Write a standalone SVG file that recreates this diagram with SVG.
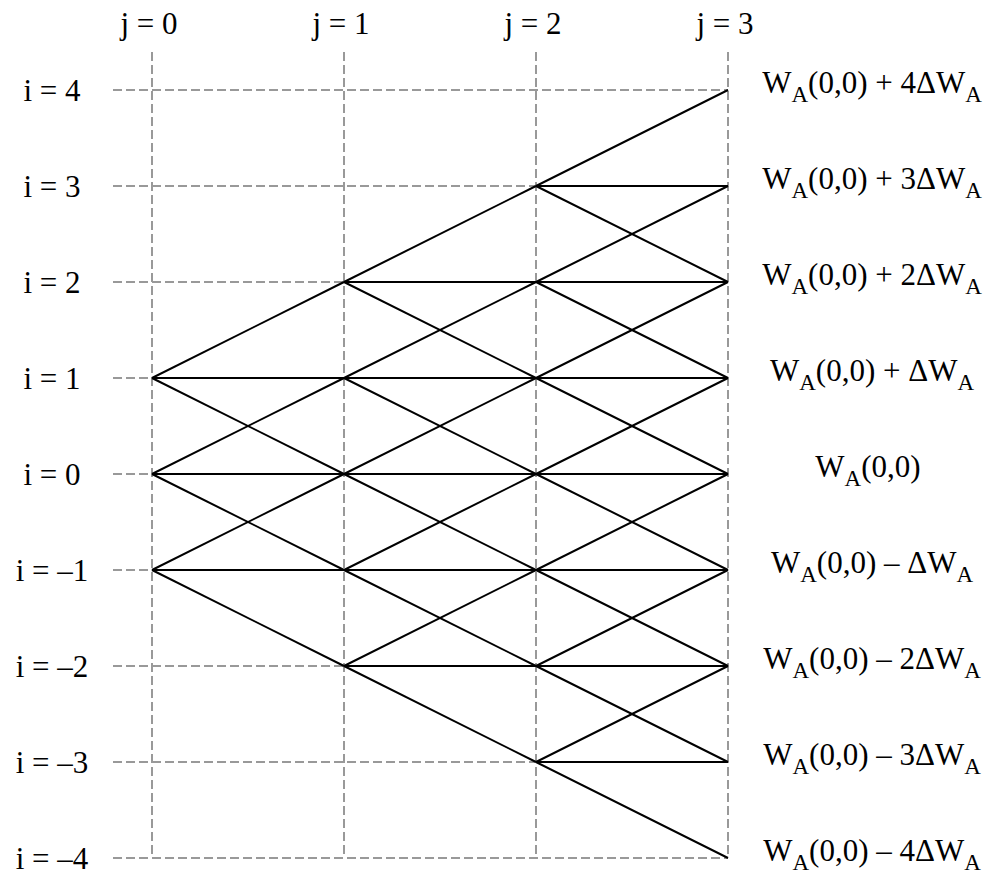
<svg xmlns="http://www.w3.org/2000/svg" width="997" height="888" viewBox="0 0 997 888">
<style>
.grid line{stroke:#999;stroke-width:2;stroke-dasharray:9 4;fill:none}
.edges line{stroke:#000;stroke-width:2}
text{font-family:"Liberation Serif","Times New Roman",serif;font-size:31px;fill:#000}
.c{text-anchor:middle}
.sub{font-size:23px}
</style>
<rect width="997" height="888" fill="#fff"/>
<g class="grid" id="grid">
<line x1="152" y1="52" x2="152" y2="858"/>
<line x1="344" y1="52" x2="344" y2="858"/>
<line x1="536" y1="52" x2="536" y2="858"/>
<line x1="728" y1="52" x2="728" y2="858"/>
<line x1="113" y1="90" x2="728" y2="90"/>
<line x1="113" y1="186" x2="728" y2="186"/>
<line x1="113" y1="282" x2="728" y2="282"/>
<line x1="113" y1="378" x2="728" y2="378"/>
<line x1="113" y1="474" x2="728" y2="474"/>
<line x1="113" y1="570" x2="728" y2="570"/>
<line x1="113" y1="666" x2="728" y2="666"/>
<line x1="113" y1="762" x2="728" y2="762"/>
<line x1="113" y1="858" x2="728" y2="858"/>
</g>
<g class="edges" id="connectors">
<line x1="152" y1="378" x2="344" y2="282"/><line x1="152" y1="378" x2="344" y2="378"/><line x1="152" y1="378" x2="344" y2="474"/>
<line x1="152" y1="474" x2="344" y2="378"/><line x1="152" y1="474" x2="344" y2="474"/><line x1="152" y1="474" x2="344" y2="570"/>
<line x1="152" y1="570" x2="344" y2="474"/><line x1="152" y1="570" x2="344" y2="570"/><line x1="152" y1="570" x2="344" y2="666"/>
<line x1="344" y1="282" x2="536" y2="186"/><line x1="344" y1="282" x2="536" y2="282"/><line x1="344" y1="282" x2="536" y2="378"/>
<line x1="344" y1="378" x2="536" y2="282"/><line x1="344" y1="378" x2="536" y2="378"/><line x1="344" y1="378" x2="536" y2="474"/>
<line x1="344" y1="474" x2="536" y2="378"/><line x1="344" y1="474" x2="536" y2="474"/><line x1="344" y1="474" x2="536" y2="570"/>
<line x1="344" y1="570" x2="536" y2="474"/><line x1="344" y1="570" x2="536" y2="570"/><line x1="344" y1="570" x2="536" y2="666"/>
<line x1="344" y1="666" x2="536" y2="570"/><line x1="344" y1="666" x2="536" y2="666"/><line x1="344" y1="666" x2="536" y2="762"/>
<line x1="536" y1="186" x2="728" y2="90"/><line x1="536" y1="186" x2="728" y2="186"/><line x1="536" y1="186" x2="728" y2="282"/>
<line x1="536" y1="282" x2="728" y2="186"/><line x1="536" y1="282" x2="728" y2="282"/><line x1="536" y1="282" x2="728" y2="378"/>
<line x1="536" y1="378" x2="728" y2="282"/><line x1="536" y1="378" x2="728" y2="378"/><line x1="536" y1="378" x2="728" y2="474"/>
<line x1="536" y1="474" x2="728" y2="378"/><line x1="536" y1="474" x2="728" y2="474"/><line x1="536" y1="474" x2="728" y2="570"/>
<line x1="536" y1="570" x2="728" y2="474"/><line x1="536" y1="570" x2="728" y2="570"/><line x1="536" y1="570" x2="728" y2="666"/>
<line x1="536" y1="666" x2="728" y2="570"/><line x1="536" y1="666" x2="728" y2="666"/><line x1="536" y1="666" x2="728" y2="762"/>
<line x1="536" y1="762" x2="728" y2="666"/><line x1="536" y1="762" x2="728" y2="762"/><line x1="536" y1="762" x2="728" y2="858"/>
</g>
<g id="col-labels" class="c">
<text x="149" y="34">j = 0</text>
<text x="341" y="34">j = 1</text>
<text x="533" y="34">j = 2</text>
<text x="725" y="34">j = 3</text>
</g>
<g id="row-labels" class="c">
<text x="52" y="101">i = 4</text>
<text x="52" y="197">i = 3</text>
<text x="52" y="293">i = 2</text>
<text x="52" y="389">i = 1</text>
<text x="52" y="485">i = 0</text>
<text x="52" y="581">i = –1</text>
<text x="52" y="677">i = –2</text>
<text x="52" y="773">i = –3</text>
<text x="52" y="869">i = –4</text>
</g>
<g id="value-labels" class="c">
<text x="872" y="93">W<tspan class="sub" dy="9">A</tspan><tspan dy="-9">(0,0) + 4ΔW</tspan><tspan class="sub" dy="9">A</tspan></text>
<text x="872" y="189">W<tspan class="sub" dy="9">A</tspan><tspan dy="-9">(0,0) + 3ΔW</tspan><tspan class="sub" dy="9">A</tspan></text>
<text x="872" y="285">W<tspan class="sub" dy="9">A</tspan><tspan dy="-9">(0,0) + 2ΔW</tspan><tspan class="sub" dy="9">A</tspan></text>
<text x="872" y="381">W<tspan class="sub" dy="9">A</tspan><tspan dy="-9">(0,0) + ΔW</tspan><tspan class="sub" dy="9">A</tspan></text>
<text x="868" y="477">W<tspan class="sub" dy="9">A</tspan><tspan dy="-9">(0,0)</tspan></text>
<text x="872" y="573">W<tspan class="sub" dy="9">A</tspan><tspan dy="-9">(0,0) – ΔW</tspan><tspan class="sub" dy="9">A</tspan></text>
<text x="872" y="669">W<tspan class="sub" dy="9">A</tspan><tspan dy="-9">(0,0) – 2ΔW</tspan><tspan class="sub" dy="9">A</tspan></text>
<text x="872" y="765">W<tspan class="sub" dy="9">A</tspan><tspan dy="-9">(0,0) – 3ΔW</tspan><tspan class="sub" dy="9">A</tspan></text>
<text x="872" y="861">W<tspan class="sub" dy="9">A</tspan><tspan dy="-9">(0,0) – 4ΔW</tspan><tspan class="sub" dy="9">A</tspan></text>
</g>
</svg>
